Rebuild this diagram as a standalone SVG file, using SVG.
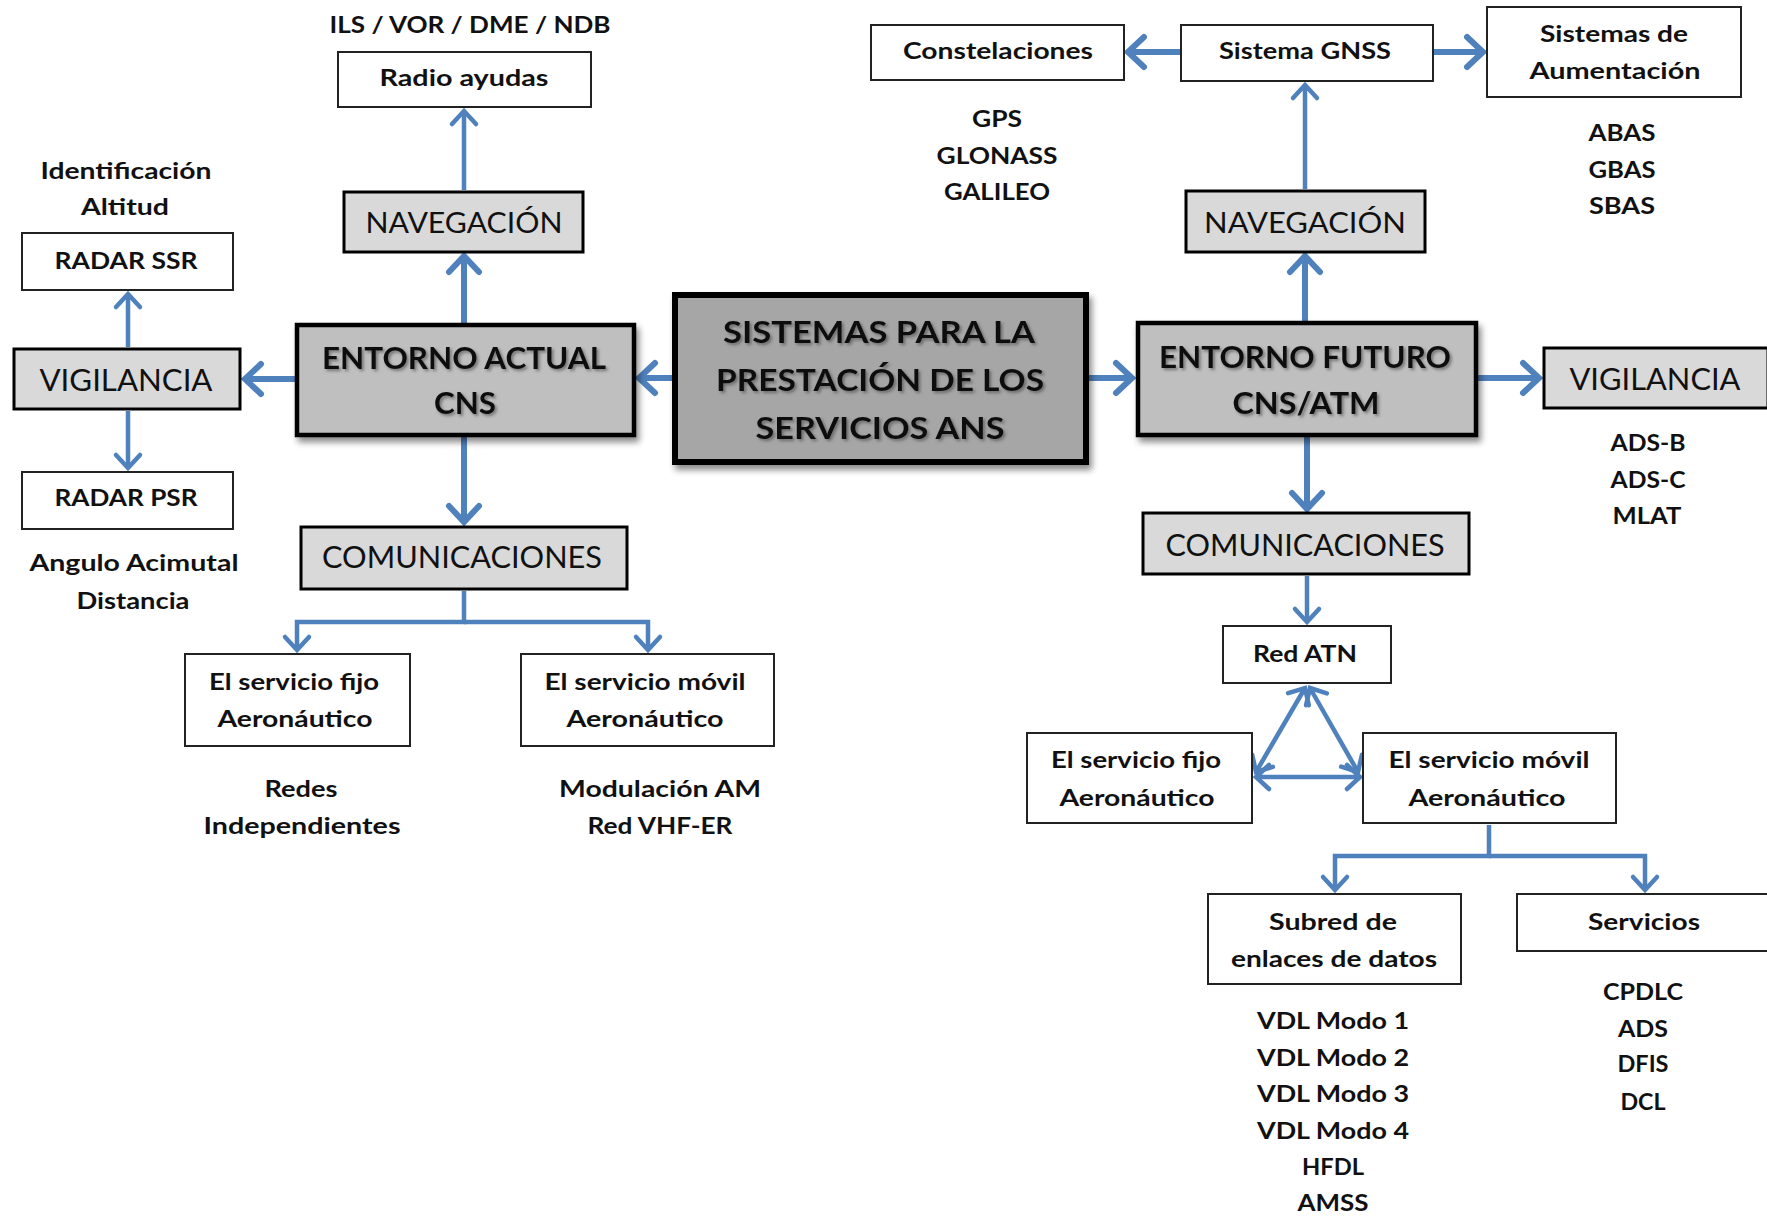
<svg xmlns="http://www.w3.org/2000/svg" width="1767" height="1218" viewBox="0 0 1767 1218">
<style>
text{font-family:Lato,"Liberation Sans",sans-serif;fill:#111;text-anchor:middle}
.s{font-size:22px;font-weight:bold}
.t{font-size:30px}
.n{font-size:29px}
.c{font-size:31px;font-weight:bold;filter:url(#tsh)}
.e{font-size:30px;font-weight:bold;filter:url(#tsh)}
.w{fill:#fff;stroke:#222;stroke-width:2}
.g{fill:#d9d9d9;stroke:#000;stroke-width:3}
.ent{fill:#bfbfbf;stroke:#000;stroke-width:4.5;filter:url(#bsh)}
.cen{fill:#a6a6a6;stroke:#000;stroke-width:6;filter:url(#bsh)}
.cb{fill:none;stroke:#4f81bd;stroke-width:6;marker-end:url(#big)}
.cm{fill:none;stroke:#4f81bd;stroke-width:4.5;marker-end:url(#sm)}
.cd{fill:none;stroke:#4f81bd;stroke-width:4.5;marker-end:url(#sm);marker-start:url(#sm)}
</style>
<defs>
<filter id="bsh" x="-10%" y="-10%" width="125%" height="130%"><feDropShadow dx="3" dy="5" stdDeviation="3" flood-color="#000" flood-opacity="0.45"/></filter>
<filter id="tsh" x="-10%" y="-30%" width="120%" height="160%"><feDropShadow dx="2" dy="2" stdDeviation="1.5" flood-color="#444" flood-opacity="0.6"/></filter>
<marker id="big" markerUnits="userSpaceOnUse" markerWidth="50" markerHeight="50" viewBox="-25 -25 50 50" refX="0" refY="0" orient="auto-start-reverse" overflow="visible">
<path d="M-16,-15 L0,0 L-16,15" fill="none" stroke="#4f81bd" stroke-width="6" stroke-linecap="round"/>
</marker>
<marker id="sm" markerUnits="userSpaceOnUse" markerWidth="50" markerHeight="50" viewBox="-25 -25 50 50" refX="0" refY="0" orient="auto-start-reverse" overflow="visible">
<path d="M-13,-12 L0,0 L-13,12" fill="none" stroke="#4f81bd" stroke-width="4.5" stroke-linecap="round"/>
</marker>
</defs>
<rect width="1767" height="1218" fill="#fff"/>

<g id="connectors">
<path class="cb" d="M672,378 L639,378"/>
<path class="cb" d="M295,379 L245,379"/>
<path class="cb" d="M464,323 L464,256"/>
<path class="cm" d="M464,190 L464,111"/>
<path class="cm" d="M128,347 L128,294"/>
<path class="cm" d="M128,411 L128,468"/>
<path class="cb" d="M464,437 L464,522"/>
<path class="cm" d="M464,591 L464,622 L297,622 L297,650"/>
<path class="cm" d="M464,622 L648,622 L648,650"/>
<path class="cb" d="M1089,378 L1132,378"/>
<path class="cb" d="M1478,378 L1539,378"/>
<path class="cb" d="M1305,321 L1305,256"/>
<path class="cm" d="M1305,189 L1305,85"/>
<path class="cb" d="M1180,52 L1128,52"/>
<path class="cb" d="M1434,52 L1483,52"/>
<path class="cb" d="M1307,437 L1307,509"/>
<path class="cm" d="M1307,576 L1307,622"/>
<path class="cd" d="M1305,688 L1256,772"/>
<path class="cd" d="M1310,688 L1358,772"/>
<path class="cd" d="M1256,777 L1360,777"/>
<path class="cm" d="M1489,825 L1489,856 L1335,856 L1335,890"/>
<path class="cm" d="M1489,856 L1645,856 L1645,890"/>
</g>

<g id="central">
<rect class="cen" x="675" y="295" width="411" height="167"/>
<text class="c" x="879" y="343" textLength="312" lengthAdjust="spacingAndGlyphs">SISTEMAS PARA LA</text>
<text class="c" x="880" y="391" textLength="328" lengthAdjust="spacingAndGlyphs">PRESTACIÓN DE LOS</text>
<text class="c" x="880" y="439" textLength="249" lengthAdjust="spacingAndGlyphs">SERVICIOS ANS</text>
</g>

<g id="entorno-actual">
<rect class="ent" x="297" y="325" width="337" height="110"/>
<text class="e" x="464" y="369" textLength="284" lengthAdjust="spacingAndGlyphs">ENTORNO ACTUAL</text>
<text class="e" x="465" y="414" textLength="62" lengthAdjust="spacingAndGlyphs">CNS</text>
</g>

<g id="nav-left">
<rect class="g" x="344" y="192" width="239" height="60"/>
<text class="n" x="464" y="233" textLength="197" lengthAdjust="spacingAndGlyphs">NAVEGACIÓN</text>
</g>
<g id="radio">
<rect class="w" x="338" y="52" width="253" height="55"/>
<text class="s" x="464" y="86" textLength="169" lengthAdjust="spacingAndGlyphs">Radio ayudas</text>
<text class="s" x="470" y="33" textLength="281" lengthAdjust="spacingAndGlyphs">ILS / VOR / DME / NDB</text>
</g>

<g id="vig-left">
<rect class="g" x="14" y="349" width="226" height="60"/>
<text class="t" x="126" y="391" textLength="173" lengthAdjust="spacingAndGlyphs">VIGILANCIA</text>
</g>
<g id="ssr">
<rect class="w" x="22" y="233" width="211" height="57"/>
<text class="s" x="126" y="269" textLength="143" lengthAdjust="spacingAndGlyphs">RADAR SSR</text>
<text class="s" x="126" y="179" textLength="171" lengthAdjust="spacingAndGlyphs">Identificación</text>
<text class="s" x="125" y="215" textLength="88" lengthAdjust="spacingAndGlyphs">Altitud</text>
</g>
<g id="psr">
<rect class="w" x="22" y="472" width="211" height="57"/>
<text class="s" x="126" y="506" textLength="143" lengthAdjust="spacingAndGlyphs">RADAR PSR</text>
<text class="s" x="134" y="571" textLength="209" lengthAdjust="spacingAndGlyphs">Angulo Acimutal</text>
<text class="s" x="133" y="609" textLength="113" lengthAdjust="spacingAndGlyphs">Distancia</text>
</g>

<g id="com-left">
<rect class="g" x="301" y="527" width="326" height="62"/>
<text class="t" x="462" y="568" textLength="280" lengthAdjust="spacingAndGlyphs">COMUNICACIONES</text>
</g>
<g id="fijo-left">
<rect class="w" x="185" y="654" width="225" height="92"/>
<text class="s" x="294" y="690" textLength="170" lengthAdjust="spacingAndGlyphs">El servicio fijo</text>
<text class="s" x="295" y="727" textLength="155" lengthAdjust="spacingAndGlyphs">Aeronáutico</text>
<text class="s" x="301" y="797" textLength="73" lengthAdjust="spacingAndGlyphs">Redes</text>
<text class="s" x="302" y="834" textLength="197" lengthAdjust="spacingAndGlyphs">Independientes</text>
</g>
<g id="movil-left">
<rect class="w" x="521" y="654" width="253" height="92"/>
<text class="s" x="645" y="690" textLength="201" lengthAdjust="spacingAndGlyphs">El servicio móvil</text>
<text class="s" x="645" y="727" textLength="157" lengthAdjust="spacingAndGlyphs">Aeronáutico</text>
<text class="s" x="660" y="797" textLength="202" lengthAdjust="spacingAndGlyphs">Modulación AM</text>
<text class="s" x="660" y="834" textLength="145" lengthAdjust="spacingAndGlyphs">Red VHF-ER</text>
</g>

<g id="entorno-futuro">
<rect class="ent" x="1138" y="323" width="338" height="112"/>
<text class="e" x="1305" y="368" textLength="292" lengthAdjust="spacingAndGlyphs">ENTORNO FUTURO</text>
<text class="e" x="1306" y="414" textLength="147" lengthAdjust="spacingAndGlyphs">CNS/ATM</text>
</g>

<g id="nav-right">
<rect class="g" x="1186" y="191" width="239" height="61"/>
<text class="n" x="1305" y="233" textLength="202" lengthAdjust="spacingAndGlyphs">NAVEGACIÓN</text>
</g>
<g id="gnss">
<rect class="w" x="1181" y="25" width="252" height="56"/>
<text class="s" x="1305" y="59" textLength="172" lengthAdjust="spacingAndGlyphs">Sistema GNSS</text>
</g>
<g id="constelaciones">
<rect class="w" x="871" y="25" width="253" height="55"/>
<text class="s" x="998" y="59" textLength="190" lengthAdjust="spacingAndGlyphs">Constelaciones</text>
<text class="s" x="997" y="127" textLength="50" lengthAdjust="spacingAndGlyphs">GPS</text>
<text class="s" x="997" y="164" textLength="121" lengthAdjust="spacingAndGlyphs">GLONASS</text>
<text class="s" x="997" y="200" textLength="106" lengthAdjust="spacingAndGlyphs">GALILEO</text>
</g>
<g id="aumentacion">
<rect class="w" x="1487" y="7" width="254" height="90"/>
<text class="s" x="1614" y="42" textLength="148" lengthAdjust="spacingAndGlyphs">Sistemas de</text>
<text class="s" x="1615" y="79" textLength="171" lengthAdjust="spacingAndGlyphs">Aumentación</text>
<text class="s" x="1622" y="141" textLength="67" lengthAdjust="spacingAndGlyphs">ABAS</text>
<text class="s" x="1622" y="178" textLength="67" lengthAdjust="spacingAndGlyphs">GBAS</text>
<text class="s" x="1622" y="214" textLength="66" lengthAdjust="spacingAndGlyphs">SBAS</text>
</g>

<g id="vig-right">
<rect class="g" x="1544" y="348" width="224" height="60"/>
<text class="t" x="1655" y="390" textLength="171" lengthAdjust="spacingAndGlyphs">VIGILANCIA</text>
<text class="s" x="1648" y="451" textLength="75" lengthAdjust="spacingAndGlyphs">ADS-B</text>
<text class="s" x="1648" y="488" textLength="75" lengthAdjust="spacingAndGlyphs">ADS-C</text>
<text class="s" x="1647" y="524" textLength="69" lengthAdjust="spacingAndGlyphs">MLAT</text>
</g>

<g id="com-right">
<rect class="g" x="1143" y="513" width="326" height="61"/>
<text class="t" x="1305" y="556" textLength="279" lengthAdjust="spacingAndGlyphs">COMUNICACIONES</text>
</g>
<g id="red-atn">
<rect class="w" x="1223" y="626" width="168" height="57"/>
<text class="s" x="1305" y="662" textLength="104" lengthAdjust="spacingAndGlyphs">Red ATN</text>
</g>
<g id="fijo-right">
<rect class="w" x="1027" y="733" width="225" height="90"/>
<text class="s" x="1136" y="768" textLength="170" lengthAdjust="spacingAndGlyphs">El servicio fijo</text>
<text class="s" x="1137" y="806" textLength="155" lengthAdjust="spacingAndGlyphs">Aeronáutico</text>
</g>
<g id="movil-right">
<rect class="w" x="1363" y="733" width="253" height="90"/>
<text class="s" x="1489" y="768" textLength="201" lengthAdjust="spacingAndGlyphs">El servicio móvil</text>
<text class="s" x="1487" y="806" textLength="157" lengthAdjust="spacingAndGlyphs">Aeronáutico</text>
</g>
<g id="subred">
<rect class="w" x="1208" y="894" width="253" height="90"/>
<text class="s" x="1333" y="930" textLength="128" lengthAdjust="spacingAndGlyphs">Subred de</text>
<text class="s" x="1334" y="967" textLength="206" lengthAdjust="spacingAndGlyphs">enlaces de datos</text>
<text class="s" x="1333" y="1029" textLength="152" lengthAdjust="spacingAndGlyphs">VDL Modo 1</text>
<text class="s" x="1333" y="1066" textLength="152" lengthAdjust="spacingAndGlyphs">VDL Modo 2</text>
<text class="s" x="1333" y="1102" textLength="152" lengthAdjust="spacingAndGlyphs">VDL Modo 3</text>
<text class="s" x="1333" y="1139" textLength="152" lengthAdjust="spacingAndGlyphs">VDL Modo 4</text>
<text class="s" x="1333" y="1175" textLength="62" lengthAdjust="spacingAndGlyphs">HFDL</text>
<text class="s" x="1333" y="1211" textLength="71" lengthAdjust="spacingAndGlyphs">AMSS</text>
</g>
<g id="servicios">
<rect class="w" x="1517" y="894" width="256" height="57"/>
<text class="s" x="1644" y="930" textLength="112" lengthAdjust="spacingAndGlyphs">Servicios</text>
<text class="s" x="1643" y="1000" textLength="80" lengthAdjust="spacingAndGlyphs">CPDLC</text>
<text class="s" x="1643" y="1037" textLength="50" lengthAdjust="spacingAndGlyphs">ADS</text>
<text class="s" x="1643" y="1072" textLength="51" lengthAdjust="spacingAndGlyphs">DFIS</text>
<text class="s" x="1643" y="1110" textLength="45" lengthAdjust="spacingAndGlyphs">DCL</text>
</g>
</svg>
